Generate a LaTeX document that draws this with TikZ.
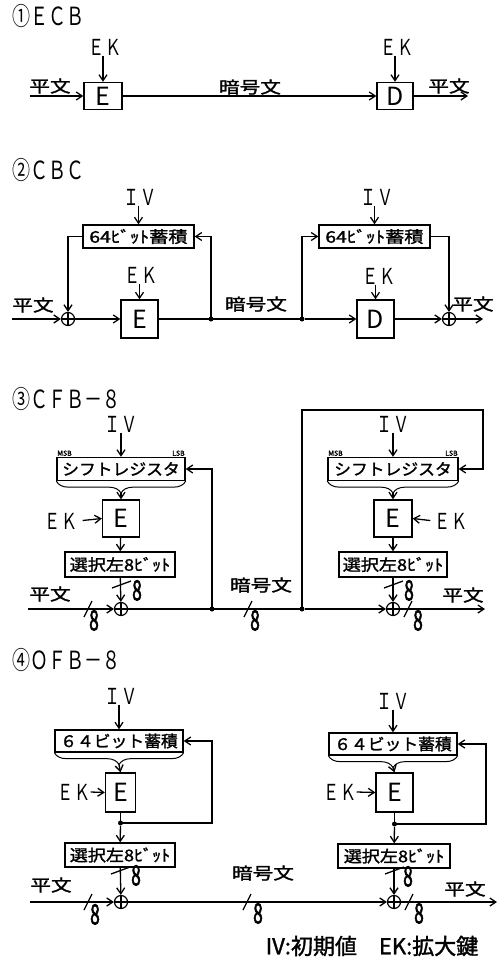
\documentclass[tikz,border=0pt]{standalone}
\usepackage{fontspec}
\setmainfont{Noto Sans CJK JP}
\newfontfamily\jb[FakeBold=1.5]{Noto Sans CJK JP}
\newfontfamily\jbb[FakeBold=2.5]{Noto Sans CJK JP}
\usetikzlibrary{arrows.meta,decorations.pathreplacing}
\newcommand{\jwide}[2][1.25]{\scalebox{#1}[1]{#2}}
\newcommand{\eig}{\raisebox{0pt}[0.6em][0pt]{\scalebox{0.62}[1]{8}}}
\newcommand{\latw}[1]{\scalebox{0.73}[1]{#1}}
\newcommand{\ttlw}[1]{\scalebox{0.72}[1]{#1}}
\tikzset{
  ttl/.style={font=\fontsize{25}{25}\selectfont, anchor=west, inner sep=0},
  lat/.style={font=\fontsize{22}{22}\selectfont, inner sep=0},
  jp/.style={font=\jb\fontsize{16.5}{16.5}\selectfont, inner sep=0},
  blk/.style={draw, inner sep=0, font=\fontsize{25}{25}\selectfont},
  reg/.style={draw, inner sep=0, font=\jb\fontsize{16}{16}\selectfont},
  xor/.style={circle, draw, line width=1.2pt, minimum size=13pt, inner sep=0,
    path picture={\draw[line width=1.2pt] (path picture bounding box.north) -- (path picture bounding box.south)
      (path picture bounding box.west) -- (path picture bounding box.east);}},
  dot/.style={circle, fill, inner sep=0, minimum size=5pt},
  eight/.style={font=\jbb\fontsize{28}{28}\selectfont, inner sep=0},
  tiny/.style={font=\jb\fontsize{7}{7}\selectfont, inner sep=0.3pt},
  brc/.style={decorate, decoration={brace, mirror, amplitude=12pt}, line width=1pt},
}
\begin{document}
\begin{tikzpicture}[x=1pt,y=-1pt, line width=1.3pt, >={Straight Barb[length=6pt,width=8pt]}]
\useasboundingbox (0,0) rectangle (498,963);

% ---------------- titles
\node[ttl] (t1) at (12,16) {\ttlw{①ＥＣＢ}};
\node[ttl] (t2) at (12,170) {\ttlw{②ＣＢＣ}};
\node[ttl] (t3) at (12,399) {\ttlw{③ＣＦＢ－８}};
\node[ttl] (t4) at (12,660) {\ttlw{④ＯＦＢ－８}};

% ---------------- ECB
\node[lat] (ek1a) at (105,47) {\latw{ＥＫ}};
\node[blk, minimum width=38pt, minimum height=27pt] (e1) at (103,96) {E};
\node[lat] (ek1b) at (397,47) {\latw{ＥＫ}};
\node[blk, minimum width=36pt, minimum height=27pt] (d1) at (395,96) {D};
\node[jp] (p1a) at (50,86) {\jwide{平文}};
\node[jp] (c1) at (250,87) {\jwide{暗号文}};
\node[jp] (p1b) at (449,86) {\jwide{平文}};
\coordinate (in1) at (30,96);
\coordinate (out1) at (468,96);
\draw[->] (in1) -- (e1);
\draw[->] (e1) -- (d1);
\draw[->] (d1) -- (out1);
\draw[->] (e1.north |- ek1a.south) -- (e1.north);
\draw[->] (d1.north |- ek1b.south) -- (d1.north);

% ---------------- CBC
\node[lat] (iv2a) at (140,197) {\latw{ＩＶ}};
\node[reg, minimum width=111pt, minimum height=23pt] (r2a) at (138.5,236.5) {\jwide[1.2]{64ﾋﾞｯﾄ蓄積}};
\node[lat] (ek2a) at (141,275) {\latw{ＥＫ}};
\node[blk, minimum width=37pt, minimum height=38pt] (e2) at (139.5,319) {E};
\node[xor] (x2a) at (68,319) {};
\node[dot] (d2a) at (211,319) {};
\node[dot] (d2b) at (302,319) {};
\node[blk, minimum width=37pt, minimum height=38pt] (dd2) at (375.5,319) {D};
\node[reg, minimum width=111pt, minimum height=23pt] (r2b) at (374.5,236.5) {\jwide[1.2]{64ﾋﾞｯﾄ蓄積}};
\node[lat] (iv2b) at (377,197) {\latw{ＩＶ}};
\node[lat] (ek2b) at (379,276) {\latw{ＥＫ}};
\node[xor] (x2b) at (449,319) {};
\node[jp] (p2a) at (33,305) {\jwide{平文}};
\node[jp] (c2) at (256,304) {\jwide{暗号文}};
\node[jp] (p2b) at (473,304) {\jwide{平文}};
\coordinate (in2) at (12,319);
\coordinate (out2) at (483,319);
\draw[->] (in2) -- (x2a);
\draw[->] (x2a) -- (e2);
\draw (e2) -- (d2a.center) -- (d2b.center);
\draw[->] (d2b) -- (dd2);
\draw[->] (dd2) -- (x2b);
\draw[->] (x2b) -- (out2);
\draw[->] (d2a.center) |- (r2a.east);
\draw[->] (r2a.west) -| (x2a.north);
\draw[->] (d2b.center) |- (r2b.west);
\draw[->] (r2b.east) -| (x2b.north);
\draw[->] (r2a.north |- iv2a.south) -- (r2a.north);
\draw[->] (r2b.north |- iv2b.south) -- (r2b.north);
\draw[->] (e2.north |- ek2a.south) -- (e2.north);
\draw[->] (dd2.north |- ek2b.south) -- (dd2.north);

% ---------------- CFB-8
\node[lat] (iv3a) at (121,424) {\latw{ＩＶ}};
\node[reg, minimum width=128pt, minimum height=23pt] (s3a) at (121,469) {\jwide[1.05]{シフトレジスタ}};
\node[tiny, anchor=south west] (m3a) at (s3a.north west) {MSB};
\node[tiny, anchor=south east] (l3a) at (s3a.north east) {LSB};
\draw[brc] (s3a.south west) -- (s3a.south east);
\coordinate (b3a) at ([yshift=-12pt]s3a.south);
\node[blk, minimum width=37pt, minimum height=37pt] (e3a) at (121,518.5) {E};
\node[lat] (ek3a) at (61,521) {\latw{ＥＫ}};
\node[reg, minimum width=110pt, minimum height=25pt] (sl3a) at (120,564.5) {\jwide[1.13]{選択左8ﾋﾞｯﾄ}};
\node[xor] (x3a) at (121,609) {};
\node[jp] (p3a) at (50,594) {\jwide{平文}};
\coordinate (in3) at (28,609);
\node[dot] (d3a) at (212,609) {};
\node[dot] (d3b) at (302,609) {};
\node[jp] (c3) at (261,585) {\jwide{暗号文}};
\node[lat] (iv3b) at (393,424) {\latw{ＩＶ}};
\node[reg, minimum width=130pt, minimum height=23pt] (s3b) at (393,469) {\jwide[1.05]{シフトレジスタ}};
\node[tiny, anchor=south west] (m3b) at (s3b.north west) {MSB};
\node[tiny, anchor=south east] (l3b) at (s3b.north east) {LSB};
\draw[brc] (s3b.south west) -- (s3b.south east);
\coordinate (b3b) at ([yshift=-12pt]s3b.south);
\node[blk, minimum width=38pt, minimum height=37pt] (e3b) at (393,518.5) {E};
\node[lat] (ek3b) at (451,521) {\latw{ＥＫ}};
\node[reg, minimum width=108pt, minimum height=25pt] (sl3b) at (393,564.5) {\jwide[1.13]{選択左8ﾋﾞｯﾄ}};
\node[xor] (x3b) at (393,609) {};
\node[jp] (p3b) at (463,595) {\jwide{平文}};
\coordinate (out3) at (485,609);
\coordinate (c3t) at (483,410);
% eights
\node[eight] (n3a) at (94,622) {\eig};
\node[eight] (n3b) at (137,592) {\eig};
\node[eight] (n3c) at (255,622) {\eig};
\node[eight] (n3d) at (409,592) {\eig};
\node[eight] (n3e) at (418,622) {\eig};
% connectors
\draw[->] (in3) -- (x3a);
\draw (x3a) -- (d3a.center) -- (d3b.center);
\draw[->] (d3b) -- (x3b);
\draw[->] (x3b) -- (out3);
\draw[->] (d3a.center) |- (s3a.east);
\draw[->] (d3b.center) |- (c3t) |- (s3b.east);
\draw[->] (s3a.north |- iv3a.south) -- (s3a.north);
\draw[->] (s3b.north |- iv3b.south) -- (s3b.north);
\draw[->] (b3a) -- (e3a.north);
\draw[->] (b3b) -- (e3b.north);
\draw[->, shorten <=5pt] (ek3a.east) -- (e3a.west);
\draw[->, shorten <=4pt] (ek3b.west) -- (e3b.east);
\draw[->] (e3a) -- (sl3a);
\draw[->] (e3b) -- (sl3b);
\draw[->] (sl3a) -- (x3a);
\draw[->] (sl3b) -- (x3b);
% slashes
\draw (84,617) -- (92,601);
\draw (244,617) -- (252,601);
\draw (404,617) -- (412,601);
\draw (112,588) -- (131,581);
\draw (384,588) -- (403,581);

% ---------------- OFB-8
\node[lat] (iv4a) at (121,696) {\latw{ＩＶ}};
\node[reg, minimum width=128pt, minimum height=22pt] (r4a) at (119,741) {\jwide[1.05]{６４ビット蓄積}};
\draw[brc] (r4a.south west) -- (r4a.south east);
\coordinate (b4a) at ([yshift=-12pt]r4a.south);
\node[blk, minimum width=30pt, minimum height=39pt] (e4a) at (120.5,792.5) {E};
\node[lat] (ek4a) at (74,792) {\latw{ＥＫ}};
\node[dot] (d4a) at (120.5,823) {};
\coordinate (c4a) at (212,823);
\node[reg, minimum width=110pt, minimum height=24pt] (sl4a) at (120,855) {\jwide[1.13]{選択左8ﾋﾞｯﾄ}};
\node[xor] (x4a) at (121,902) {};
\node[jp] (p4a) at (51,885) {\jwide{平文}};
\coordinate (in4) at (30,902);
\node[jp] (c4) at (263,873) {\jwide{暗号文}};
\node[lat] (iv4b) at (393,701) {\latw{ＩＶ}};
\node[reg, minimum width=128pt, minimum height=22pt] (r4b) at (393,744) {\jwide[1.05]{６４ビット蓄積}};
\draw[brc] (r4b.south west) -- (r4b.south east);
\coordinate (b4b) at ([yshift=-12pt]r4b.south);
\node[blk, minimum width=37pt, minimum height=39pt] (e4b) at (394.5,792.5) {E};
\node[lat] (ek4b) at (340,792) {\latw{ＥＫ}};
\node[dot] (d4b) at (394.5,824) {};
\coordinate (c4b) at (486,824);
\node[reg, minimum width=112pt, minimum height=24pt] (sl4b) at (394,856) {\jwide[1.13]{選択左8ﾋﾞｯﾄ}};
\node[xor] (x4b) at (394,902) {};
\node[jp] (p4b) at (465,889) {\jwide{平文}};
\coordinate (out4) at (497,902);
% eights
\node[eight] (n4a) at (95,916) {\eig};
\node[eight] (n4b) at (136,877) {\eig};
\node[eight] (n4c) at (258,915) {\eig};
\node[eight] (n4d) at (408,878) {\eig};
\node[eight] (n4e) at (419,915) {\eig};
% connectors
\draw[->] (in4) -- (x4a);
\draw[->] (x4a) -- (x4b);
\draw[->] (x4b) -- (out4);
\draw[->] (r4a.north |- iv4a.south) -- (r4a.north);
\draw[->] (r4b.north |- iv4b.south) -- (r4b.north);
\draw[->] (b4a) -- (e4a.north);
\draw[->] (b4b) -- (e4b.north);
\draw[->] (ek4a.east) -- (e4a.west);
\draw[->] (ek4b.east) -- (e4b.west);
\draw (e4a) -- (d4a.center);
\draw (e4b) -- (d4b.center);
\draw[->] (d4a.center) -- (c4a) |- (r4a.east);
\draw[->] (d4b.center) -- (c4b) |- (r4b.east);
\draw[->] (d4a) -- (sl4a);
\draw[->] (d4b) -- (sl4b);
\draw[->] (sl4a) -- (x4a);
\draw[->] (sl4b) -- (x4b);
% slashes
\draw (84,910) -- (92,894);
\draw (243,910) -- (251,894);
\draw (405,910) -- (413,894);
\draw (111,874) -- (130,867);
\draw (385,874) -- (404,867);

% ---------------- footer
\node[font=\jb\fontsize{22}{22}\selectfont, inner sep=0] (ft) at (372,946) {IV:初期値　EK:拡大鍵};
\end{tikzpicture}
\end{document}
